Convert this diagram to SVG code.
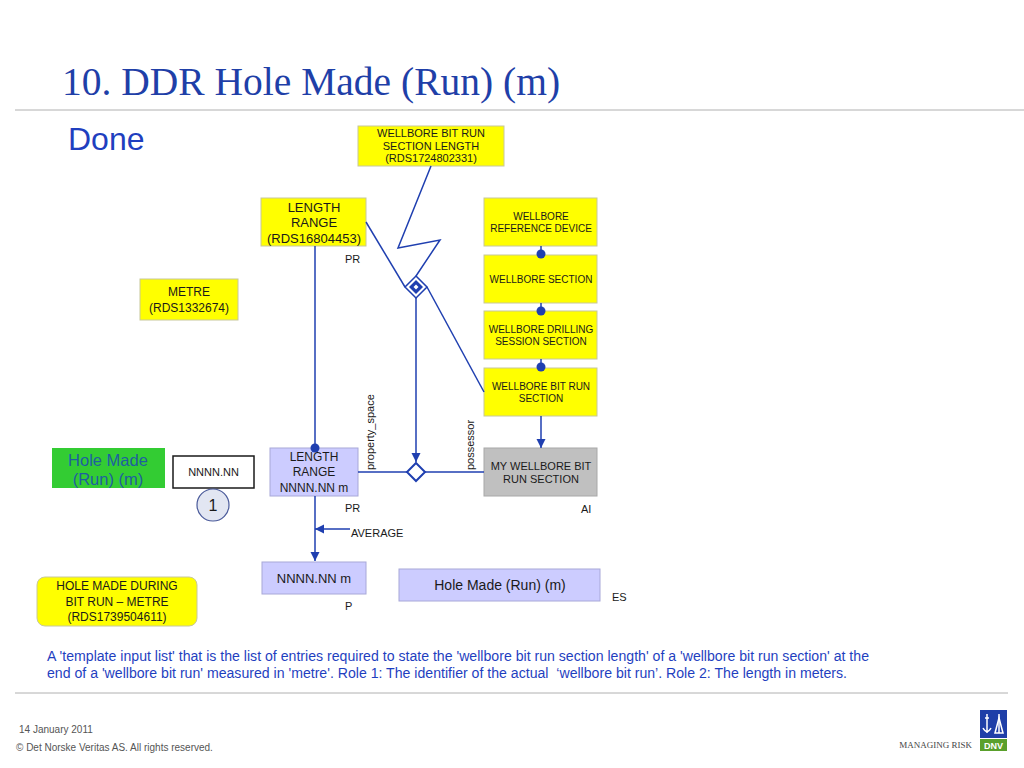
<svg xmlns="http://www.w3.org/2000/svg" width="1024" height="768" viewBox="0 0 1024 768">
<defs>
<style>
.sans{font-family:"Liberation Sans",Arial,sans-serif}
.ybox{fill:#ffff00;stroke:#c8c89a;stroke-width:1}
.lbox{fill:#ccccff;stroke:#a8a8d8;stroke-width:1}
.t{font-family:"Liberation Sans",Arial,sans-serif;fill:#1a1a1a;text-anchor:middle}
.ln{stroke:#1f3fb0;stroke-width:1.5;fill:none}
.dot{fill:#1f3fb0}
.lab{font-family:"Liberation Sans",Arial,sans-serif;fill:#1a1a1a;font-size:11px}
</style>
<marker id="arr" viewBox="0 0 10 10" refX="10" refY="5" markerWidth="9" markerHeight="10" markerUnits="userSpaceOnUse" orient="auto">
<path d="M0,0 L10,5 L0,10 z" fill="#1f3fb0"/>
</marker>
</defs>
<rect width="1024" height="768" fill="#ffffff"/>

<text x="62" y="95" font-family="'Liberation Serif','Times New Roman',serif" font-size="39.5" fill="#1f3fa8">10. DDR Hole Made (Run) (m)</text>
<line x1="15" y1="110" x2="1024" y2="110" stroke="#b0b0b0" stroke-width="1"/>
<text x="68" y="150" class="sans" font-size="32" fill="#1f3fbf">Done</text>

<g id="wbrsl">
<rect class="ybox" x="358" y="126" width="146" height="40"/>
<text class="t" font-size="11" x="431" y="137">WELLBORE BIT RUN</text>
<text class="t" font-size="11" x="431" y="150">SECTION LENGTH</text>
<text class="t" font-size="11" x="431" y="162">(RDS1724802331)</text>
</g>

<g id="length-range">
<rect class="ybox" x="261" y="198" width="105" height="48"/>
<text class="t" font-size="13" x="314" y="212">LENGTH</text>
<text class="t" font-size="13" x="314" y="227">RANGE</text>
<text class="t" font-size="13" x="314" y="243">(RDS16804453)</text>
<text class="lab" x="345" y="263">PR</text>
</g>

<g id="metre">
<rect class="ybox" x="140" y="279" width="98" height="41"/>
<text class="t" font-size="12" x="189" y="296">METRE</text>
<text class="t" font-size="12" x="189" y="312">(RDS1332674)</text>
</g>

<g id="wrd">
<rect class="ybox" x="484" y="198" width="113" height="48"/>
<text class="t" font-size="10" x="541" y="220">WELLBORE</text>
<text class="t" font-size="10" x="541" y="232">REFERENCE DEVICE</text>
</g>
<g id="ws">
<rect class="ybox" x="484" y="255" width="113" height="48"/>
<text class="t" font-size="10" x="541" y="283">WELLBORE SECTION</text>
</g>
<g id="wdss">
<rect class="ybox" x="484" y="311" width="113" height="48"/>
<text class="t" font-size="10" x="541" y="333">WELLBORE DRILLING</text>
<text class="t" font-size="10" x="541" y="345">SESSION SECTION</text>
</g>
<g id="wbrs">
<rect class="ybox" x="484" y="368" width="113" height="48"/>
<text class="t" font-size="10" x="541" y="390">WELLBORE BIT RUN</text>
<text class="t" font-size="10" x="541" y="402">SECTION</text>
</g>
<g id="mywbrs">
<rect x="484" y="448" width="113" height="48" fill="#c0c0c0" stroke="#a8a8a8" stroke-width="1"/>
<text class="t" font-size="11" x="541" y="470">MY WELLBORE BIT</text>
<text class="t" font-size="11" x="541" y="483">RUN SECTION</text>
<text class="lab" x="581" y="513" font-size="9">AI</text>
</g>

<g id="length-range-2">
<rect class="lbox" x="270" y="448" width="88" height="48"/>
<text class="t" font-size="12" x="314" y="461">LENGTH</text>
<text class="t" font-size="12" x="314" y="476">RANGE</text>
<text class="t" font-size="12" x="314" y="492">NNNN.NN m</text>
<text class="lab" x="345" y="512">PR</text>
</g>

<g id="nnnn-m">
<rect class="lbox" x="262" y="562" width="104" height="32"/>
<text class="t" font-size="13" x="314" y="583">NNNN.NN m</text>
<text class="lab" x="345" y="610" font-size="12">P</text>
</g>

<g id="hole-made-es">
<rect class="lbox" x="399" y="569" width="201" height="32"/>
<text class="t" font-size="14" x="500" y="590">Hole Made (Run) (m)</text>
<text class="lab" x="612" y="601">ES</text>
</g>

<g id="hole-made-green">
<rect x="52" y="448" width="113" height="40" fill="#33cc33"/>
<text class="sans" font-size="16.5" x="108" y="466" text-anchor="middle" fill="#1f5fa0">Hole Made</text>
<text class="sans" font-size="16.5" x="108" y="485" text-anchor="middle" fill="#1f5fa0">(Run) (m)</text>
</g>

<g id="nnnn">
<rect x="173" y="456" width="81" height="32" fill="#ffffff" stroke="#1a1a1a" stroke-width="1.5"/>
<text class="t" font-size="11" x="213.5" y="476">NNNN.NN</text>
</g>

<g id="role1">
<circle cx="213" cy="505" r="16" fill="#e2e6f2" stroke="#4a5a9a" stroke-width="1.2"/>
<text class="t" font-size="16" x="213" y="511" fill="#333">1</text>
</g>

<g id="hmdbr">
<rect class="ybox" x="37" y="577" width="160" height="49" rx="8" ry="8"/>
<text class="t" font-size="12" x="117" y="590">HOLE MADE DURING</text>
<text class="t" font-size="12" x="117" y="606">BIT RUN – METRE</text>
<text class="t" font-size="12" x="117" y="621">(RDS1739504611)</text>
</g>

<g id="connectors">
<polyline class="ln" points="431,166 398,248 440,240 416,276"/>
<line class="ln" x1="366" y1="222" x2="405" y2="287"/>
<line class="ln" x1="427" y1="287" x2="484" y2="392"/>
<line class="ln" x1="416" y1="298" x2="416" y2="462" marker-end="url(#arr)"/>
<line class="ln" x1="315" y1="246" x2="315" y2="448"/>
<circle class="dot" cx="315" cy="448" r="4.5"/>
<line class="ln" x1="358" y1="472" x2="407" y2="472"/>
<line class="ln" x1="425" y1="472" x2="484" y2="472"/>
<line class="ln" x1="315" y1="496" x2="315" y2="561" marker-end="url(#arr)"/>
<line class="ln" x1="350" y1="529" x2="315" y2="529" marker-end="url(#arr)"/>
<line class="ln" x1="541" y1="246" x2="541" y2="255"/>
<circle class="dot" cx="541" cy="254" r="4.5"/>
<line class="ln" x1="541" y1="303" x2="541" y2="311"/>
<circle class="dot" cx="541" cy="311" r="4.5"/>
<line class="ln" x1="541" y1="359" x2="541" y2="368"/>
<circle class="dot" cx="541" cy="367" r="4.5"/>
<line class="ln" x1="541" y1="416" x2="541" y2="448" marker-end="url(#arr)"/>
<g id="diamond-top">
<path d="M416,276 L427,287 L416,298 L405,287 z" fill="#ffffff" stroke="#1f3fb0" stroke-width="1.5"/>
<path d="M416,280 L423,287 L416,294 L409,287 z" fill="#1f3fb0"/>
<path d="M416,284.5 L418.5,287 L416,289.5 L413.5,287 z" fill="#ffffff"/>
</g>
<g id="diamond-bottom">
<path d="M416,463 L425,472 L416,481 L407,472 z" fill="#ffffff" stroke="#1f3fb0" stroke-width="2"/>
</g>
<text class="lab" transform="translate(374,470) rotate(-90)">property_space</text>
<text class="lab" transform="translate(474,470) rotate(-90)">possessor</text>
<text class="lab" x="351" y="537">AVERAGE</text>
</g>

<text class="sans" font-size="14" fill="#1f3fbf" x="47" y="661" textLength="822" lengthAdjust="spacingAndGlyphs">A 'template input list' that is the list of entries required to state the 'wellbore bit run section length' of a 'wellbore bit run section' at the</text>
<text class="sans" font-size="14" fill="#1f3fbf" x="47" y="678" textLength="800" lengthAdjust="spacingAndGlyphs" xml:space="preserve" style="white-space:pre">end of a 'wellbore bit run' measured in 'metre'. Role 1: The identifier of the actual  ‘wellbore bit run’. Role 2: The length in meters.</text>

<line x1="15" y1="693" x2="1008" y2="693" stroke="#b0b0b0" stroke-width="1"/>
<text class="sans" font-size="10" fill="#555" x="19" y="733">14 January 2011</text>
<text class="sans" font-size="10" fill="#555" x="16" y="751">© Det Norske Veritas AS. All rights reserved.</text>

<g id="logo">
<text x="972" y="748" font-family="'Liberation Serif','Times New Roman',serif" font-size="9" fill="#444" text-anchor="end">MANAGING RISK</text>
<rect x="980" y="710" width="27" height="28" fill="#1f3fa8"/>
<g stroke="#ffffff" stroke-width="1.5" fill="none">
<line x1="987" y1="714" x2="987" y2="733"/>
<path d="M983,728 Q987,735 991,728"/>
<line x1="985" y1="718" x2="989" y2="718"/>
<line x1="999" y1="714" x2="999" y2="733"/>
<path d="M995,733 L999,718 L1003,733 z"/>
</g>
<rect x="980" y="739" width="27" height="12" fill="#5aa02c"/>
<text class="sans" font-size="9" font-weight="bold" fill="#ffffff" x="993.5" y="748.5" text-anchor="middle">DNV</text>
</g>
</svg>
